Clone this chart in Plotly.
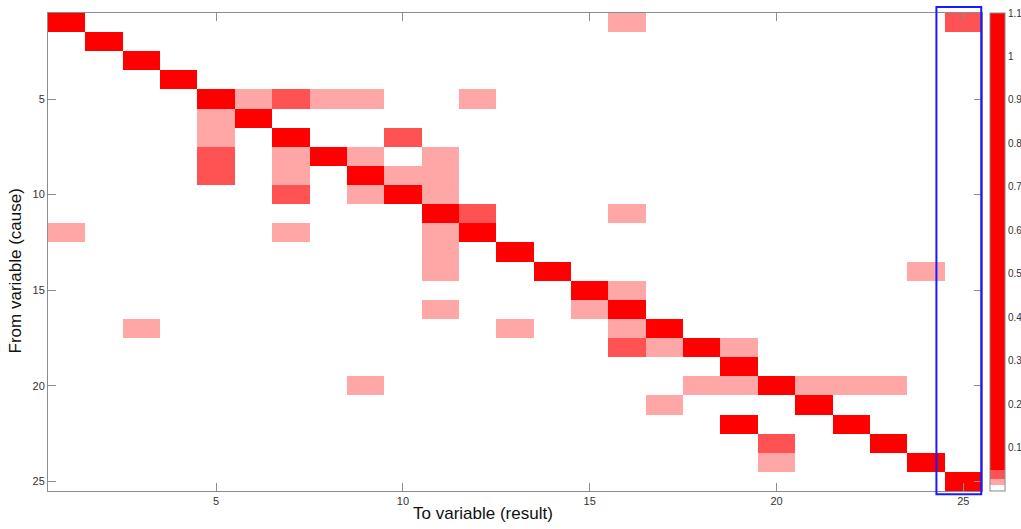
import plotly.graph_objects as go

n_vars = 25
tick_vals = [5, 10, 15, 20, 25]
cbar_ticks = [0.1, 0.2, 0.3, 0.4, 0.5, 0.6, 0.7, 0.8, 0.9, 1.0, 1.1]

# (cause row, result column, strength)
from_var = [1, 1, 1, 2, 3, 4,
            5, 5, 5, 5, 5, 5,
            6, 6,
            7, 7, 7,
            8, 8, 8, 8, 8,
            9, 9, 9, 9, 9,
            10, 10, 10, 10,
            11, 11, 11,
            12, 12, 12, 12,
            13, 13,
            14, 14, 14,
            15, 15,
            16, 16, 16,
            17, 17, 17, 17,
            18, 18, 18, 18,
            19,
            20, 20, 20, 20, 20, 20, 20,
            21, 21,
            22, 22,
            23, 23,
            24, 24,
            25]
to_var = [1, 16, 25, 2, 3, 4,
          5, 6, 7, 8, 9, 12,
          5, 6,
          5, 7, 10,
          5, 7, 8, 9, 11,
          5, 7, 9, 10, 11,
          7, 9, 10, 11,
          11, 12, 16,
          1, 7, 11, 12,
          11, 13,
          11, 14, 24,
          15, 16,
          11, 15, 16,
          3, 13, 16, 17,
          16, 17, 18, 19,
          19,
          9, 18, 19, 20, 21, 22, 23,
          17, 21,
          19, 22,
          20, 23,
          20, 24,
          25]
strength = [1, 0.02, 0.04, 1, 1, 1,
            1, 0.02, 0.04, 0.02, 0.02, 0.02,
            0.02, 1,
            0.02, 1, 0.04,
            0.04, 0.02, 1, 0.02, 0.02,
            0.04, 0.02, 1, 0.02, 0.02,
            0.04, 0.02, 1, 0.02,
            1, 0.04, 0.02,
            0.02, 0.02, 0.02, 1,
            0.02, 1,
            0.02, 1, 0.02,
            1, 0.02,
            0.02, 0.02, 1,
            0.02, 0.02, 0.02, 1,
            0.04, 0.02, 1, 0.02,
            1,
            0.02, 0.02, 0.02, 1, 0.02, 0.02, 0.02,
            0.02, 1,
            1, 1,
            0.04, 1,
            0.02, 1,
            1]

highlight_col = 25

z = [[0.0] * n_vars for _ in range(n_vars)]
for r, c, v in zip(from_var, to_var, strength):
    z[r - 1][c - 1] = v

idx = list(range(1, n_vars + 1))

colorscale = [
    [0.0, "#FFFFFF"], [0.0127, "#FFFFFF"],
    [0.0127, "#FFA6A6"], [0.0255, "#FFA6A6"],
    [0.0255, "#FF5252"], [0.0445, "#FF5252"],
    [0.0445, "#FF0000"], [1.0, "#FF0000"],
]

fig = go.Figure(go.Heatmap(
    z=z, x=idx, y=idx,
    zmin=0, zmax=1.1,
    colorscale=colorscale,
    hoverinfo="skip",
    colorbar=dict(
        x=1.0086, xanchor="left", xpad=0,
        y=0.5, yanchor="middle", len=1.0, lenmode="fraction", ypad=0,
        thickness=15, thicknessmode="pixels",
        outlinewidth=1, outlinecolor="#888888",
        tickvals=cbar_ticks,
        ticktext=[f"{t:g}" for t in cbar_ticks],
        ticks="", ticklen=0,
        tickfont=dict(family="Liberation Sans, Arial", size=10, color="#333333"),
    ),
))

axis_common = dict(
    showgrid=False, zeroline=False,
    showline=True, linecolor="#8c8c8c", linewidth=1,
    mirror="ticks", ticks="inside", ticklen=8, tickcolor="#8c8c8c", tickwidth=1,
    tickvals=tick_vals,
    tickfont=dict(family="Liberation Sans, Arial", size=11, color="#333333"),
)

fig.update_xaxes(range=[0.5, n_vars + 0.5], **axis_common)
fig.update_yaxes(range=[n_vars + 0.5, 0.5], **axis_common)

# highlight box around the last column (paper coords derived from column index)
x0p = (highlight_col - 0.72 - 0.5) / n_vars
x1p = (highlight_col + 0.48 - 0.5) / n_vars
fig.add_shape(type="rect", xref="paper", yref="paper",
              x0=x0p, x1=x1p, y0=-0.007, y1=1.0126,
              line=dict(color="#1a1aff", width=2), fillcolor="rgba(0,0,0,0)",
              layer="above")

fig.add_annotation(text="To variable (result)", xref="paper", yref="paper",
                   x=0.466, y=-0.022, xanchor="center", yanchor="top",
                   showarrow=False,
                   font=dict(family="Liberation Sans, Arial", size=17, color="#111111"))
fig.add_annotation(text="From variable (cause)", xref="paper", yref="paper",
                   x=-0.035, y=0.46, xanchor="center", yanchor="middle",
                   textangle=-90, showarrow=False,
                   font=dict(family="Liberation Sans, Arial", size=17, color="#111111"))

fig.update_layout(
    width=1021, height=529,
    margin=dict(l=48, r=39, t=13, b=38, autoexpand=False),
    paper_bgcolor="white", plot_bgcolor="white",
    showlegend=False,
)

fig.write_html("out.html")
